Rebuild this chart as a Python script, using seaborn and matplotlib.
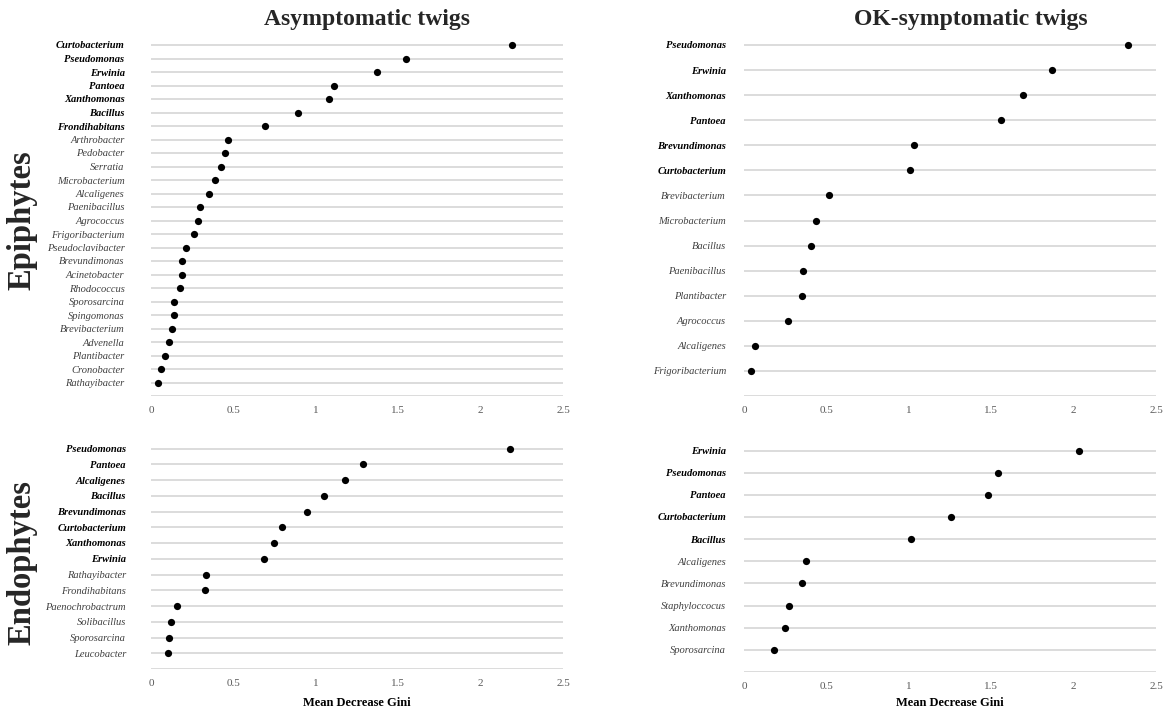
import numpy as np
import pandas as pd
import matplotlib
matplotlib.use("Agg")
import matplotlib.pyplot as plt
import seaborn as sns

# Epiphytes, asymptomatic twigs
epi_asym_genus = ["Curtobacterium", "Pseudomonas", "Erwinia", "Pantoea", "Xanthomonas",
                  "Bacillus", "Frondihabitans", "Arthrobacter", "Pedobacter", "Serratia",
                  "Microbacterium", "Alcaligenes", "Paenibacillus", "Agrococcus",
                  "Frigoribacterium", "Pseudoclavibacter", "Brevundimonas", "Acinetobacter",
                  "Rhodococcus", "Sporosarcina", "Spingomonas", "Brevibacterium", "Advenella",
                  "Plantibacter", "Cronobacter", "Rathayibacter"]
epi_asym_gini = [2.19, 1.55, 1.37, 1.11, 1.08, 0.89, 0.69, 0.465, 0.451, 0.423, 0.388,
                 0.35, 0.299, 0.285, 0.261, 0.21, 0.19, 0.188, 0.176, 0.141, 0.138,
                 0.125, 0.111, 0.083, 0.061, 0.044]
epi_asym_top = 7  # genera shown in bold (most discriminant)

# Epiphytes, OK-symptomatic twigs
epi_ok_genus = ["Pseudomonas", "Erwinia", "Xanthomonas", "Pantoea", "Brevundimonas",
                "Curtobacterium", "Brevibacterium", "Microbacterium", "Bacillus",
                "Paenibacillus", "Plantibacter", "Agrococcus", "Alcaligenes",
                "Frigoribacterium"]
epi_ok_gini = [2.33, 1.87, 1.69, 1.56, 1.03, 1.006, 0.515, 0.436, 0.408, 0.358, 0.35,
               0.269, 0.069, 0.042]
epi_ok_top = 6

# Endophytes, asymptomatic twigs
endo_asym_genus = ["Pseudomonas", "Pantoea", "Alcaligenes", "Bacillus", "Brevundimonas",
                   "Curtobacterium", "Xanthomonas", "Erwinia", "Rathayibacter",
                   "Frondihabitans", "Paenochrobactrum", "Solibacillus", "Sporosarcina",
                   "Leucobacter"]
endo_asym_gini = [2.18, 1.285, 1.18, 1.05, 0.947, 0.795, 0.748, 0.683, 0.334, 0.328,
                  0.158, 0.124, 0.107, 0.103]
endo_asym_top = 8

# Endophytes, OK-symptomatic twigs
endo_ok_genus = ["Erwinia", "Pseudomonas", "Pantoea", "Curtobacterium", "Bacillus",
                 "Alcaligenes", "Brevundimonas", "Staphyloccocus", "Xanthomonas",
                 "Sporosarcina"]
endo_ok_gini = [2.03, 1.54, 1.48, 1.255, 1.016, 0.374, 0.353, 0.273, 0.25, 0.184]
endo_ok_top = 5

x_ticks = [0, 0.5, 1, 1.5, 2, 2.5]
x_tick_labels = ["0", "0.5", "1", "1.5", "2", "2.5"]

sns.set_theme(style="white")
plt.rcParams["font.family"] = ["Liberation Serif", "DejaVu Serif"]

W, H = 1168, 715
fig = plt.figure(figsize=(W / 100, H / 100), dpi=100)


def px_rect(left, top, right, bottom):
    return [left / W, 1 - bottom / H, (right - left) / W, (bottom - top) / H]


panels = [
    # genus, gini, n_bold, (left, top, right, bottom) px, first row px, label pad, xlabel
    (epi_asym_genus, epi_asym_gini, epi_asym_top, (151, 35, 563, 396), 45, 19, False),
    (epi_ok_genus, epi_ok_gini, epi_ok_top, (744, 35, 1156, 396), 45, 13, False),
    (endo_asym_genus, endo_asym_gini, endo_asym_top, (151, 440, 563, 669), 448.5, 18, True),
    (endo_ok_genus, endo_ok_gini, endo_ok_top, (744, 440, 1156, 672), 450.5, 13, True),
]

for genus, gini, n_bold, (l, t, r, b), row0, pad, with_xlabel in panels:
    ax = fig.add_axes(px_rect(l, t, r, b))
    df = pd.DataFrame({"genus": genus, "gini": gini})
    sns.stripplot(data=df, x="gini", y="genus", order=genus, jitter=False,
                  color="black", size=5.2, linewidth=0, ax=ax, zorder=3)
    n = len(genus)
    step = (b - row0) / n
    ax.set_ylim(n, -(row0 - t) / step)
    ax.set_yticks(np.arange(n + 1))
    ax.set_yticklabels(list(genus) + [""])
    ax.set_xlim(0, 2.5)
    ax.set_xticks(x_ticks)
    ax.set_xticklabels(x_tick_labels)
    ax.grid(False)
    ax.yaxis.grid(True, color="#d9d9d9", linewidth=1.3)
    ax.set_axisbelow(True)
    for s in ax.spines.values():
        s.set_visible(False)
    ax.tick_params(axis="both", length=0)
    ax.tick_params(axis="y", pad=pad)
    ax.tick_params(axis="x", pad=7, labelsize=8, labelcolor="#595959")
    for i, lab in enumerate(ax.get_yticklabels()[:n]):
        lab.set_fontsize(7.6)
        lab.set_fontstyle("italic")
        if i < n_bold:
            lab.set_fontweight("bold")
            lab.set_color("black")
        else:
            lab.set_color("#404040")
    ax.set_ylabel("")
    ax.set_xlabel("")
    if with_xlabel:
        fig.text((l + r) / 2 / W, 1 - 703 / H, "Mean Decrease Gini", ha="center",
                 va="center", fontsize=9, fontweight="bold", color="black")

fig.text(367 / W, 1 - 20 / H, "Asymptomatic twigs", ha="center", va="center",
         fontsize=17, fontweight="bold")
fig.text(971 / W, 1 - 20 / H, "OK-symptomatic twigs", ha="center", va="center",
         fontsize=17, fontweight="bold")
fig.text(22 / W, 1 - 220 / H, "Epiphytes", rotation=90, ha="center", va="center",
         fontsize=23.5, fontweight="bold")
fig.text(22 / W, 1 - 563 / H, "Endophytes", rotation=90, ha="center", va="center",
         fontsize=23.5, fontweight="bold")

fig.savefig("out.png", dpi=100, facecolor="white")
